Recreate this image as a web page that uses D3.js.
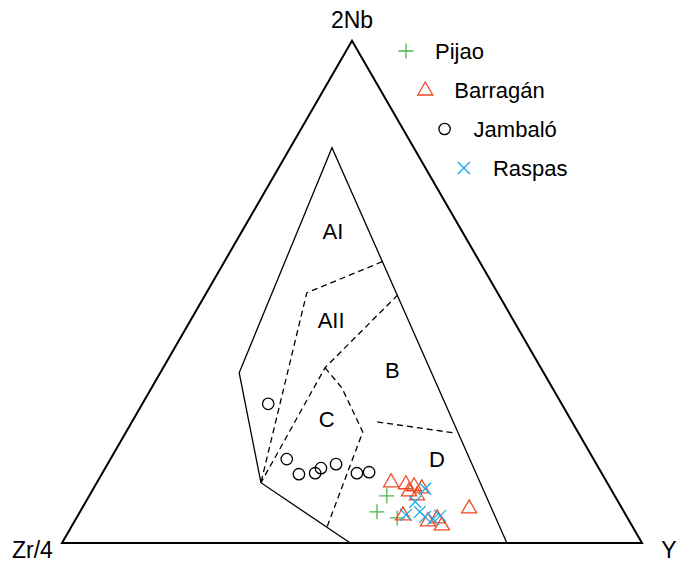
<!DOCTYPE html>
<html>
<head>
<meta charset="utf-8">
<script src="https://cdn.jsdelivr.net/npm/d3@7"></script>
<style>
  body { margin: 0; background: #fff; }
  text { font-family: "Liberation Sans", Arial, sans-serif; }
</style>
</head>
<body>
<div id="chart"></div>
<script>
// ternary compositions in percent: [2Nb, Zr/4, Y]
const apexLabels = ["2Nb", "Zr/4", "Y"];

const fieldOutline = [[0, 23.3, 76.7], [78.7, 14.1, 7.2], [33.9, 52.5, 13.6], [12.0, 59.7, 28.3], [0, 50.3, 49.7]];
const lineAI_AII = [[56.0, 16.8, 27.2], [49.8, 32.9, 17.3], [12.0, 59.7, 28.3]];
const lineAII_B = [[49.4, 17.4, 33.2], [34.9, 37.2, 27.9], [12.0, 59.7, 28.3]];
const lineC = [[34.9, 37.2, 27.9], [30.9, 36.3, 32.8], [27.5, 36.6, 35.9], [22.1, 37.1, 40.8], [3.2, 52.7, 44.1]];
const lineB_D = [[24.1, 33.6, 42.3], [21.9, 21.3, 56.8]];

const fieldNames = ["AI", "AII", "B", "C", "D"];
const fieldLabelPos = [[62.0, 22.3, 15.7], [44.2, 31.5, 24.3], [34.3, 25.9, 39.8], [24.5, 42.1, 33.4], [16.7, 27.0, 56.3]];

const pijao = [[9.4, 39.3, 51.3], [6.2, 42.6, 51.2], [5.0, 39.7, 55.3]];
const barragan = [[12.2, 37.2, 50.7], [11.8, 34.8, 53.4], [11.4, 33.6, 55.0], [11.0, 32.5, 56.6],
  [10.4, 35.0, 54.7], [9.6, 34.0, 56.4], [5.6, 38.4, 56.0], [4.4, 34.7, 60.9], [5.0, 32.8, 62.2],
  [3.6, 32.7, 63.7], [7.0, 26.3, 66.7]];
const jambalo = [[27.7, 50.6, 21.7], [16.7, 52.9, 30.4], [13.7, 52.3, 34.0], [13.9, 49.4, 36.7],
  [14.9, 47.9, 37.2], [15.7, 44.9, 39.4], [13.9, 42.2, 43.9], [14.1, 40.0, 45.9]];
const raspas = [[10.8, 32.0, 57.2], [8.2, 35.0, 56.8], [5.6, 37.9, 56.5], [6.2, 35.2, 58.6],
  [5.2, 34.8, 60.0], [4.8, 33.6, 61.6], [5.4, 32.1, 62.5]];

const seriesNames = ["Pijao", "Barragán", "Jambaló", "Raspas"];
const seriesColors = ["#4cb848", "#f04a24", "#000000", "#1aa7e6"];
const seriesShapes = ["plus", "triangle", "circle", "times"];
const seriesData = [pijao, barragan, jambalo, raspas];

const width = 688, height = 562;
const x = d3.scaleLinear().domain([0, 1]).range([62, 642]);
const y = d3.scaleLinear().domain([0, Math.sqrt(3) / 2]).range([543, 40.7]);

function project(p) {
  const s = p[0] + p[1] + p[2];
  const a = p[0] / s, c = p[2] / s;
  return [x(c + a / 2), y(a * Math.sqrt(3) / 2)];
}

function shapePath(shape) {
  if (shape === "plus") return "M-7.5,0H7.5M0,-7.5V7.5";
  if (shape === "times") return "M-6,-6L6,6M-6,6L6,-6";
  if (shape === "triangle") return "M0,-8L7.5,5L-7.5,5Z";
  return d3.arc()({ innerRadius: 0, outerRadius: 5.7, startAngle: 0, endAngle: 2 * Math.PI });
}

const svg = d3.select("#chart").append("svg")
  .attr("width", width).attr("height", height);

const line = d3.line().x(d => project(d)[0]).y(d => project(d)[1]);

// outer triangle
svg.append("path")
  .attr("d", line([[100, 0, 0], [0, 100, 0], [0, 0, 100]]) + "Z")
  .attr("fill", "none").attr("stroke", "#000").attr("stroke-width", 2)
  .attr("stroke-linejoin", "miter");

// field outline
svg.append("path").attr("d", line(fieldOutline))
  .attr("fill", "none").attr("stroke", "#000").attr("stroke-width", 1.3);

[lineAI_AII, lineAII_B, lineC, lineB_D].forEach(l => {
  svg.append("path").attr("d", line(l))
    .attr("fill", "none").attr("stroke", "#000").attr("stroke-width", 1.3)
    .attr("stroke-dasharray", "6,4");
});

svg.selectAll(".field-label").data(fieldNames).enter()
  .append("text")
  .attr("x", (d, i) => project(fieldLabelPos[i])[0])
  .attr("y", (d, i) => project(fieldLabelPos[i])[1])
  .attr("text-anchor", "middle").attr("dominant-baseline", "central")
  .style("font-size", "22px")
  .text(d => d);

// apex labels
svg.append("text").attr("x", 352).attr("y", 28).attr("text-anchor", "middle")
  .style("font-size", "23px").text(apexLabels[0]);
svg.append("text").attr("x", 12).attr("y", 558).attr("text-anchor", "start")
  .style("font-size", "23px").text(apexLabels[1]);
svg.append("text").attr("x", 669).attr("y", 558).attr("text-anchor", "middle")
  .style("font-size", "23px").text(apexLabels[2]);

// points
seriesData.forEach((data, i) => {
  svg.append("g").selectAll("path").data(data).enter()
    .append("path")
    .attr("transform", d => `translate(${project(d)[0]},${project(d)[1]})`)
    .attr("d", shapePath(seriesShapes[i]))
    .attr("fill", "none").attr("stroke", seriesColors[i]).attr("stroke-width", 1.3);
});

// legend
const legend = svg.append("g");
seriesNames.forEach((name, i) => {
  const lx = 406 + i * 19.3, ly = 51 + i * 39;
  legend.append("path")
    .attr("transform", `translate(${lx},${ly})`)
    .attr("d", shapePath(seriesShapes[i]))
    .attr("fill", "none").attr("stroke", seriesColors[i]).attr("stroke-width", 1.3);
  legend.append("text").attr("x", lx + 29).attr("y", ly)
    .attr("dominant-baseline", "central")
    .style("font-size", "22px").text(name);
});
</script>
</body>
</html>
